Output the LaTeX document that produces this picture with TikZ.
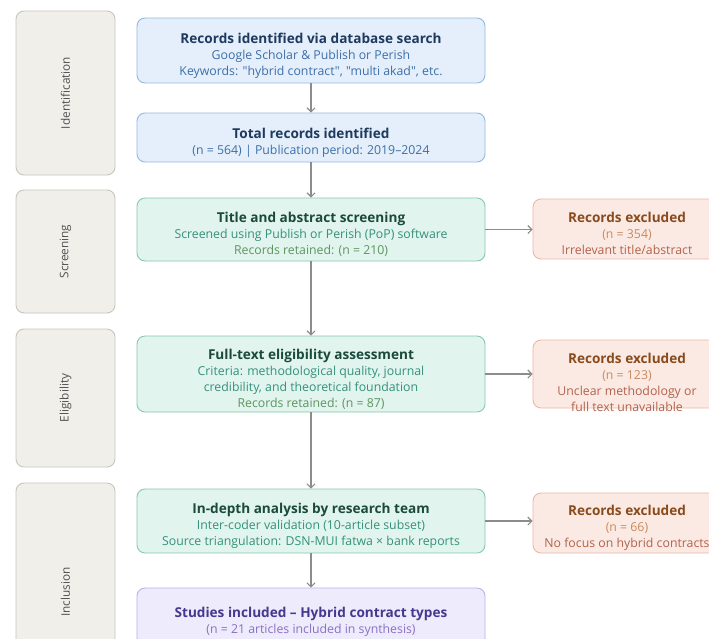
\documentclass[tikz,border=0pt]{standalone}
\usepackage{fontspec}
\setmainfont{Open Sans}[Ligatures=TeXOff]
\usetikzlibrary{arrows.meta}
\definecolor{bfill}{HTML}{E4EFFB}
\definecolor{bdraw}{HTML}{94B8E0}
\definecolor{btitle}{HTML}{1F3A5F}
\definecolor{bsub}{HTML}{3D6FA8}
\definecolor{gfill}{HTML}{E1F4EE}
\definecolor{gdraw}{HTML}{86C9AE}
\definecolor{gtitle}{HTML}{1B4A3C}
\definecolor{gsub}{HTML}{34917A}
\definecolor{gret}{HTML}{5E9460}
\definecolor{efill}{HTML}{FBEAE4}
\definecolor{edraw}{HTML}{EBB8A4}
\definecolor{etitle}{HTML}{8A4B1C}
\definecolor{esub}{HTML}{C98A5C}
\definecolor{ereason}{HTML}{B3614A}
\definecolor{pfill}{HTML}{EDEBFC}
\definecolor{pdraw}{HTML}{B8B2EA}
\definecolor{ptitle}{HTML}{46388E}
\definecolor{psub}{HTML}{8A70C4}
\definecolor{sfill}{HTML}{F1EFEA}
\definecolor{sdraw}{HTML}{C9C5BD}
\definecolor{stext}{HTML}{505050}
\definecolor{arr}{HTML}{8C8C8C}
\tikzset{
  box/.style={rectangle, rounded corners=8pt, line width=0.9pt, align=center,
    inner sep=0pt, font=\fontsize{12.3}{16}\selectfont},
  mainbox/.style={box, minimum width=348pt},
  bluebox/.style={mainbox, fill=bfill, draw=bdraw, text=bsub},
  greenbox/.style={mainbox, fill=gfill, draw=gdraw, text=gsub},
  purplebox/.style={mainbox, fill=pfill, draw=pdraw, text=psub},
  exbox/.style={box, minimum width=188pt, fill=efill, draw=edraw, text=esub},
  sidebox/.style={rectangle, rounded corners=8pt, line width=0.9pt, fill=sfill, draw=sdraw,
    minimum width=99pt, inner sep=0pt},
  sidetext/.style={rotate=90, text=stext, font=\fontsize{11.8}{13}\selectfont},
  flow/.style={draw=arr, line width=1.2pt, -{Straight Barb[length=4pt,width=8pt,line width=1.1pt]}},
}
\newcommand{\bt}[2]{\rule{0pt}{20pt}{\color{#1}\fontsize{13.6}{17}\selectfont\bfseries #2}}
\begin{document}
\begin{tikzpicture}[x=1pt,y=-1pt]
\useasboundingbox (0,0) rectangle (709,638);
\clip (0,0) rectangle (709,638);
\fill[white] (0,0) rectangle (709,638);
% side boxes
\node[sidebox, minimum height=164pt] (sid) at (65.5,93) {};
\node[sidetext] (sidt) at (sid.center) {Identification};
\node[sidebox, minimum height=123pt] (ssc) at (65.5,251.5) {};
\node[sidetext] (ssct) at (ssc.center) {Screening};
\node[sidebox, minimum height=138pt] (sel) at (65.5,398) {};
\node[sidetext] (selt) at (sel.center) {Eligibility};
\node[sidebox, minimum height=218pt] (sin) at (65.5,592) {};
\node[sidetext] (sint) at (sin.center) {Inclusion};
% main boxes
\node[bluebox, minimum height=65pt] (b1) at (311,50.5)
  {\bt{btitle}{Records identified via database search}\\Google Scholar \& Publish or Perish\\Keywords: "hybrid contract", "multi akad", etc.};
\node[bluebox, minimum height=49pt] (b2) at (311,137.5)
  {\bt{btitle}{Total records identified}\\(n = 564) | Publication period: 2019–2024};
\node[greenbox, minimum height=63pt] (b3) at (311,229.5)
  {\bt{gtitle}{Title and abstract screening}\\Screened using Publish or Perish (PoP) software\\\textcolor{gret}{Records retained: (n = 210)}};
\node[greenbox, minimum height=76pt] (b4) at (311,374)
  {\bt{gtitle}{Full-text eligibility assessment}\\Criteria: methodological quality, journal\\credibility, and theoretical foundation\\\textcolor{gret}{Records retained: (n = 87)}};
\node[greenbox, minimum height=64pt] (b5) at (311,521)
  {\bt{gtitle}{In-depth analysis by research team}\\Inter-coder validation (10-article subset)\\Source triangulation: DSN-MUI fatwa × bank reports};
\node[purplebox, minimum height=58pt] (b6) at (311,617)
  {\bt{ptitle}{Studies included – Hybrid contract types}\\(n = 21 articles included in synthesis)};
% excluded boxes
\node[exbox, minimum height=60pt] (e1) at (627,229)
  {\bt{etitle}{Records excluded}\\(n = 354)\\\textcolor{ereason}{Irrelevant title/abstract}};
\node[exbox, minimum height=68pt] (e2) at (627,374) {};
\node[box, text=esub] (e2t) at (627,378)
  {\bt{etitle}{Records excluded}\\(n = 123)\\\textcolor{ereason}{Unclear methodology or}\\\textcolor{ereason}{full text unavailable}};
\node[exbox, minimum height=60pt] (e3) at (627,523)
  {\bt{etitle}{Records excluded}\\(n = 66)\\\textcolor{ereason}{No focus on hybrid contracts}};
% connectors
\draw[flow] (b1) -- (b2);
\draw[flow] (b2) -- (b3);
\draw[flow] (b3) -- (b4);
\draw[flow] (b4) -- (b5);
\draw[flow] (b5) -- (b6);
\draw[flow] (b3.east) -- (b3.east -| e1.west);
\draw[flow] (b4.east) -- (b4.east -| e2.west);
\draw[flow] (b5.east) -- (b5.east -| e3.west);
\end{tikzpicture}
\end{document}
